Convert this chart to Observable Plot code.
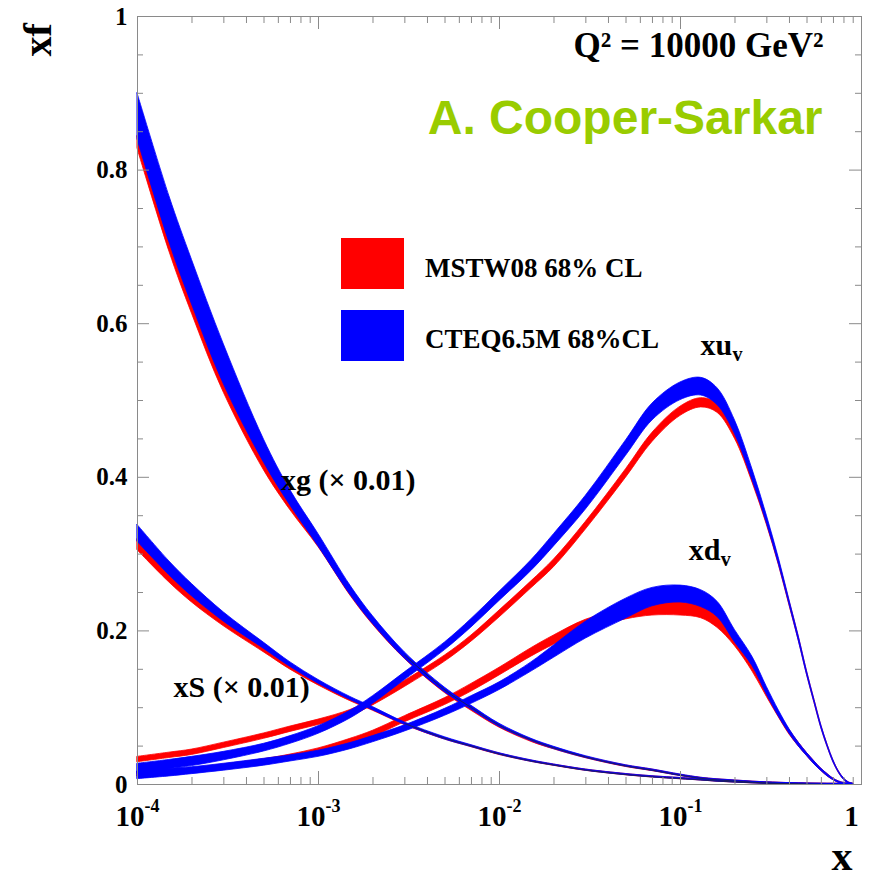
<!DOCTYPE html>
<html>
<head>
<meta charset="utf-8">
<script src="https://cdn.jsdelivr.net/npm/d3@7"></script>
<script src="https://cdn.jsdelivr.net/npm/@observablehq/plot@0.6"></script>
<style>
  html, body { margin: 0; padding: 0; background: #fff; }
  #chart { width: 872px; height: 878px; }
</style>
</head>
<body>
<div id="chart"></div>
<script>
// Parton distributions at Q^2 = 10000 GeV^2: central value and 68% CL half-width
// for each PDF set, sampled on a common x grid.
const xGrid = [1e-4, 1.5e-4, 2e-4, 3e-4, 5e-4, 7e-4, 1e-3, 1.5e-3, 2e-3, 3e-3, 5e-3, 7e-3,
  1e-2, 1.5e-2, 2e-2, 3e-2, 5e-2, 7e-2, 0.1, 0.13, 0.16, 0.2, 0.25, 0.3, 0.35, 0.4, 0.45,
  0.5, 0.55, 0.6, 0.65, 0.7, 0.75, 0.8, 0.85, 0.9];

// gluon, scaled by 0.01
const xgMSTW = [0.836, 0.702, 0.621, 0.517, 0.415, 0.362, 0.313, 0.249, 0.211, 0.166, 0.121, 0.098,
  0.0755, 0.057, 0.047, 0.0352, 0.0238, 0.0184, 0.0118, 0.0079, 0.0059, 0.0044, 0.003, 0.002, 0.0015,
  0.001, 0.0007, 0.0005, 0.0003, 0.0002, 0.0001, 0.0001, 0, 0, 0, 0];
const xgMSTWErr = [0.008, 0.008, 0.008, 0.007, 0.006, 0.005, 0.004, 0.003, 0.003, 0.0025, 0.002, 0.002,
  0.0015, 0.0015, 0.0012, 0.001, 0.001, 0.001, 0.0008, 0.0008, 0.0008, 0.0008, 0.0008, 0.0008, 0.0008,
  0.0008, 0.0008, 0.0008, 0.0008, 0.0008, 0.0008, 0.0008, 0.0008, 0.0008, 0.0008, 0.0008];
const xgCTEQ = [0.87, 0.736, 0.654, 0.547, 0.434, 0.373, 0.318, 0.253, 0.214, 0.168, 0.123, 0.100,
  0.077, 0.058, 0.0476, 0.0357, 0.0241, 0.0186, 0.012, 0.008, 0.006, 0.0045, 0.003, 0.002, 0.0015,
  0.001, 0.0007, 0.0005, 0.0003, 0.0002, 0.0001, 0.0001, 0, 0, 0, 0];
const xgCTEQErr = [0.03, 0.03, 0.029, 0.026, 0.015, 0.01, 0.008, 0.006, 0.005, 0.004, 0.003, 0.0025,
  0.002, 0.0015, 0.0015, 0.0012, 0.001, 0.001, 0.001, 0.0008, 0.0008, 0.0008, 0.0008, 0.0008, 0.0008,
  0.0008, 0.0008, 0.0008, 0.0008, 0.0008, 0.0008, 0.0008, 0.0008, 0.0008, 0.0008, 0.0008];

// sea, scaled by 0.01
const xSMSTW = [0.312, 0.269, 0.242, 0.210, 0.175, 0.152, 0.131, 0.110, 0.0975, 0.0785, 0.0595, 0.0496,
  0.0394, 0.0303, 0.0251, 0.0186, 0.0128, 0.0099, 0.0076, 0.006, 0.0045, 0.0033, 0.0023, 0.0017, 0.0012,
  0.0009, 0.0006, 0.0004, 0.0003, 0.0002, 0.0001, 0.0001, 0, 0, 0, 0];
const xSMSTWErr = [0.007, 0.006, 0.005, 0.004, 0.003, 0.0025, 0.002, 0.0015, 0.0015, 0.0012, 0.001, 0.001,
  0.001, 0.0008, 0.0008, 0.0008, 0.0008, 0.0008, 0.0008, 0.0008, 0.0008, 0.0008, 0.0008, 0.0008, 0.0008,
  0.0008, 0.0008, 0.0008, 0.0008, 0.0008, 0.0008, 0.0008, 0.0008, 0.0008, 0.0008, 0.0008];
const xSCTEQ = [0.327, 0.2815, 0.253, 0.218, 0.1805, 0.156, 0.1336, 0.112, 0.0988, 0.0793, 0.060, 0.050,
  0.0397, 0.0305, 0.0253, 0.0187, 0.0129, 0.010, 0.0077, 0.006, 0.0045, 0.0033, 0.0023, 0.0017, 0.0012,
  0.0009, 0.0006, 0.0004, 0.0003, 0.0002, 0.0001, 0.0001, 0, 0, 0, 0];
const xSCTEQErr = [0.011, 0.009, 0.008, 0.006, 0.004, 0.003, 0.0025, 0.002, 0.002, 0.0015, 0.0015, 0.0012,
  0.001, 0.001, 0.0008, 0.0008, 0.0008, 0.0008, 0.0008, 0.0008, 0.0008, 0.0008, 0.0008, 0.0008, 0.0008,
  0.0008, 0.0008, 0.0008, 0.0008, 0.0008, 0.0008, 0.0008, 0.0008, 0.0008, 0.0008, 0.0008];

// up valence
const xuvMSTW = [0.0325, 0.038, 0.042, 0.051, 0.063, 0.072, 0.081, 0.093, 0.107, 0.131, 0.164, 0.19,
  0.222, 0.26, 0.288, 0.337, 0.405, 0.452, 0.486, 0.497, 0.49, 0.455, 0.397, 0.342, 0.288, 0.236, 0.19,
  0.145, 0.108, 0.075, 0.05, 0.03, 0.016, 0.007, 0.002, 0.0003];
const xuvMSTWErr = [0.0035, 0.0035, 0.0035, 0.0035, 0.0035, 0.0035, 0.0035, 0.004, 0.004, 0.004, 0.004, 0.004,
  0.0045, 0.0045, 0.005, 0.005, 0.0055, 0.006, 0.006, 0.006, 0.006, 0.005, 0.004, 0.004, 0.003, 0.003,
  0.0025, 0.002, 0.002, 0.0015, 0.0015, 0.001, 0.001, 0.0008, 0.0008, 0.0008];
const xuvCTEQ = [0.0205, 0.026, 0.030, 0.037, 0.048, 0.058, 0.071, 0.091, 0.110, 0.141, 0.180, 0.210,
  0.245, 0.285, 0.318, 0.367, 0.438, 0.485, 0.512, 0.518, 0.505, 0.465, 0.403, 0.345, 0.29, 0.237, 0.19,
  0.145, 0.108, 0.075, 0.05, 0.03, 0.016, 0.007, 0.002, 0.0003];
const xuvCTEQErr = [0.0065, 0.006, 0.006, 0.0055, 0.005, 0.005, 0.005, 0.005, 0.005, 0.005, 0.005, 0.0055,
  0.006, 0.007, 0.008, 0.009, 0.01, 0.011, 0.0115, 0.0115, 0.011, 0.009, 0.007, 0.005, 0.004, 0.003,
  0.003, 0.0025, 0.002, 0.002, 0.0015, 0.0015, 0.001, 0.001, 0.0008, 0.0008];

// down valence
const xdvMSTW = [0.0135, 0.016, 0.018, 0.023, 0.030, 0.036, 0.044, 0.056, 0.066, 0.085, 0.108, 0.126,
  0.147, 0.172, 0.188, 0.208, 0.222, 0.228, 0.2285, 0.225, 0.212, 0.186, 0.152, 0.118, 0.09, 0.068,
  0.052, 0.039, 0.028, 0.019, 0.012, 0.0065, 0.003, 0.0012, 0.0003, 0];
const xdvMSTWErr = [0.003, 0.003, 0.003, 0.003, 0.003, 0.003, 0.003, 0.0035, 0.004, 0.004, 0.0045, 0.005,
  0.005, 0.0055, 0.006, 0.0065, 0.007, 0.008, 0.0085, 0.0085, 0.008, 0.006, 0.005, 0.004, 0.003, 0.003,
  0.0025, 0.002, 0.002, 0.0015, 0.0015, 0.001, 0.001, 0.0008, 0.0008, 0.0008];
const xdvCTEQ = [0.012, 0.0155, 0.018, 0.0225, 0.029, 0.034, 0.040, 0.050, 0.059, 0.073, 0.094, 0.110,
  0.128, 0.153, 0.173, 0.201, 0.229, 0.244, 0.248, 0.242, 0.228, 0.193, 0.16, 0.122, 0.092, 0.069,
  0.052, 0.039, 0.028, 0.019, 0.012, 0.0065, 0.003, 0.0012, 0.0003, 0];
const xdvCTEQErr = [0.005, 0.005, 0.0045, 0.0045, 0.0045, 0.004, 0.004, 0.004, 0.004, 0.004, 0.0045, 0.005,
  0.005, 0.006, 0.008, 0.011, 0.013, 0.012, 0.011, 0.011, 0.01, 0.008, 0.006, 0.005, 0.004, 0.003,
  0.0025, 0.002, 0.002, 0.0015, 0.0015, 0.001, 0.001, 0.0008, 0.0008, 0.0008];

// axis ticks and labels
const yMajor = [0, 0.2, 0.4, 0.6, 0.8, 1];
const yMinor = [0.05, 0.1, 0.15, 0.25, 0.3, 0.35, 0.45, 0.5, 0.55, 0.65, 0.7, 0.75, 0.85, 0.9, 0.95];
const xMajor = [1e-4, 1e-3, 1e-2, 1e-1, 1];
const xTickBase = ["10", "10", "10", "10"];
const xTickExp = ["-4", "-3", "-2", "-1"];
const xMinor = [1e-4, 1e-3, 1e-2, 1e-1].flatMap(d => [2, 3, 4, 5, 6, 7, 8, 9].map(m => m * d));

// legend
const setNames = ["MSTW08 68% CL", "CTEQ6.5M 68%CL"];
const setColors = ["#ff0000", "#0000ff"];

// curve labels
const curveLabels = [
  {text: "xg (\u00d7 0.01)", sub: "", x: 6.2e-4, y: 0.396},
  {text: "xS (\u00d7 0.01)", sub: "", x: 1.58e-4, y: 0.126},
  {text: "xu", sub: "v", x: 0.129, y: 0.572},
  {text: "xd", sub: "v", x: 0.111, y: 0.305}
];

const bands = [
  {pdf: "xg", set: 0, val: xgMSTW, err: xgMSTWErr},
  {pdf: "xS", set: 0, val: xSMSTW, err: xSMSTWErr},
  {pdf: "xuv", set: 0, val: xuvMSTW, err: xuvMSTWErr},
  {pdf: "xdv", set: 0, val: xdvMSTW, err: xdvMSTWErr},
  {pdf: "xg", set: 1, val: xgCTEQ, err: xgCTEQErr},
  {pdf: "xS", set: 1, val: xSCTEQ, err: xSCTEQErr},
  {pdf: "xuv", set: 1, val: xuvCTEQ, err: xuvCTEQErr},
  {pdf: "xdv", set: 1, val: xdvCTEQ, err: xdvCTEQErr}
];
const rows = bands.flatMap(b => xGrid.map((x, i) => ({
  key: b.pdf + b.set, set: b.set, x,
  lo: Math.max(0, b.val[i] - b.err[i]), hi: b.val[i] + b.err[i], mid: b.val[i]
})));

const W = 872, H = 878;
const mL = 137, mR = 11, mT = 16, mB = 94;
const plotW = W - mL - mR, plotH = H - mT - mB;
const serif = "'Liberation Serif', 'Times New Roman', serif";
const axisGray = "#8a8a8a";

const bandMarks = [0, 1].map(s => Plot.areaY(rows.filter(r => r.set === s), {
  x: "x", y1: "lo", y2: "hi", z: "key", fill: setColors[s], stroke: setColors[s],
  strokeWidth: 0.8, curve: "catmull-rom"
}));

const chart = Plot.plot({
  width: W, height: H,
  marginLeft: mL, marginRight: mR, marginTop: mT, marginBottom: mB,
  x: {type: "log", domain: [1e-4, 1], axis: null},
  y: {domain: [0, 1], axis: null},
  style: {fontFamily: serif, fontWeight: "bold", background: "#fff", overflow: "visible"},
  marks: [
    ...bandMarks,
    // thin central lines where the sea and gluon bands shrink to a line
    Plot.line(rows.filter(r => r.set === 1 && (r.key === "xg1" || r.key === "xS1") && r.x >= 3e-3),
      {x: "x", y: "mid", z: "key", stroke: "#1c1c5c", strokeWidth: 1, curve: "catmull-rom"}),
    Plot.frame({stroke: axisGray, strokeWidth: 1}),
    // inward ticks on all four sides
    Plot.ruleY(yMajor, {y: d => d, insetRight: plotW - 12, stroke: axisGray}),
    Plot.ruleY(yMinor, {y: d => d, insetRight: plotW - 6, stroke: axisGray}),
    Plot.ruleY(yMajor, {y: d => d, insetLeft: plotW - 12, stroke: axisGray}),
    Plot.ruleY(yMinor, {y: d => d, insetLeft: plotW - 6, stroke: axisGray}),
    Plot.ruleX(xMajor, {x: d => d, insetTop: plotH - 13, stroke: axisGray}),
    Plot.ruleX(xMinor, {x: d => d, insetTop: plotH - 7, stroke: axisGray}),
    Plot.ruleX(xMajor, {x: d => d, insetBottom: plotH - 13, stroke: axisGray}),
    Plot.ruleX(xMinor, {x: d => d, insetBottom: plotH - 7, stroke: axisGray}),
    // y tick labels
    Plot.axisY({ticks: yMajor, tickSize: 0, tickPadding: 10, tickFormat: d => String(d),
      fontSize: 25, label: null}),
    // x tick labels with superscript exponents
    Plot.text(xMajor.slice(0, 4), {x: d => d, text: (d, i) => xTickBase[i], frameAnchor: "bottom",
      lineAnchor: "middle", textAnchor: "end", dx: 7, dy: 32, fontSize: 29, fill: "#000"}),
    Plot.text(xMajor.slice(0, 4), {x: d => d, text: (d, i) => xTickExp[i], frameAnchor: "bottom",
      lineAnchor: "middle", textAnchor: "start", dx: 7, dy: 22, fontSize: 18, fill: "#000"}),
    Plot.text([1], {x: d => d, text: () => "1", frameAnchor: "bottom", lineAnchor: "middle",
      textAnchor: "middle", dx: -10, dy: 32, fontSize: 29, fill: "#000"}),
    // axis titles
    Plot.text(["xf"], {frameAnchor: "top-left", lineAnchor: "middle", text: d => d, rotate: -90,
      dx: -99, dy: 40, fontSize: 40, fill: "#000"}),
    Plot.text(["x"], {frameAnchor: "bottom-right", lineAnchor: "middle", text: d => d, dx: -9, dy: 72,
      fontSize: 42, fill: "#000"}),
    // annotations
    Plot.text(["Q\u00b2 = 10000 GeV\u00b2"], {frameAnchor: "top-right", lineAnchor: "middle", text: d => d,
      textAnchor: "end", dx: -38, dy: 29, fontSize: 35, fill: "#000"}),
    Plot.text(["A. Cooper-Sarkar"], {frameAnchor: "top-right", lineAnchor: "middle", text: d => d,
      textAnchor: "end", dx: -39, dy: 102, fontSize: 48, fill: "#99cc00",
      fontFamily: "'Liberation Sans', Arial, sans-serif", fontWeight: "bold"}),
    // curve labels
    Plot.text(curveLabels, {x: "x", y: "y", text: "text", textAnchor: "start", lineAnchor: "middle",
      fontSize: 30, fill: "#000"}),
    Plot.text(curveLabels.filter(d => d.sub), {x: "x", y: "y", text: "sub", textAnchor: "start",
      lineAnchor: "middle", dx: 32, dy: 9, fontSize: 20, fill: "#000"})
  ]
});

// legend boxes and labels
const svg = d3.select(chart);
const legend = svg.append("g").attr("font-family", serif).attr("font-weight", "bold")
  .attr("font-size", 27).attr("text-anchor", "start");
setNames.forEach((name, i) => {
  legend.append("rect").attr("x", 341).attr("y", 238 + i * 72).attr("width", 63).attr("height", 51)
    .attr("fill", setColors[i]);
  legend.append("text").attr("x", 425).attr("y", 277 + i * 71).attr("fill", "#000").text(name);
});

document.getElementById("chart").appendChild(chart);
</script>
</body>
</html>
